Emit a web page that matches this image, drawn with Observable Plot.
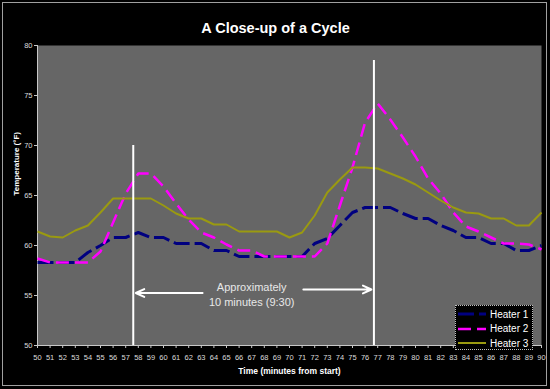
<!DOCTYPE html>
<html>
<head>
<meta charset="utf-8">
<script src="https://cdn.jsdelivr.net/npm/d3@7"></script>
<script src="https://cdn.jsdelivr.net/npm/@observablehq/plot@0.6"></script>
<style>
  html, body { margin: 0; padding: 0; background: #000; }
  #wrap { position: relative; width: 550px; height: 389px; overflow: hidden; }
  #border { position: absolute; left: 2px; top: 2px; width: 543px; height: 382px; border: 1px solid #a0a0a0; pointer-events: none; }
  #legend { position: absolute; left: 455px; top: 305px; width: 76px; height: 43px; background: #000; border: 1px dotted #c0c0c0; font-family: "Liberation Sans", Arial, sans-serif; font-size: 10px; color: #ffffff; }
  #legend .row { position: absolute; left: 1px; height: 14px; display: flex; align-items: center; }
  #legend svg { display: block; margin-right: 3px; }
</style>
</head>
<body>
<div id="wrap"><div id="border"></div></div>
<script>
// ---- data ----
const minutes = [50,51,52,53,54,55,56,57,58,59,60,61,62,63,64,65,66,67,68,69,70,71,72,73,74,75,76,77,78,79,80,81,82,83,84,85,86,87,88,89,90];
const heater1 = [58.3,58.3,58.3,58.3,59.3,60.0,60.8,60.8,61.3,60.8,60.8,60.2,60.2,60.2,59.5,59.5,58.9,58.9,58.9,58.9,58.9,58.9,60.2,60.7,62.0,63.3,63.8,63.8,63.8,63.2,62.7,62.7,62.0,61.5,60.8,60.8,60.2,60.2,59.5,59.5,60.0];
const heater2 = [58.7,58.3,58.3,58.3,58.3,59.4,62.3,65.2,67.2,67.2,65.9,64.2,62.6,61.3,60.8,60.1,59.5,59.5,58.9,58.9,58.9,58.9,58.9,60.2,64.0,67.8,72.3,74.2,72.6,70.8,68.9,66.7,65.2,63.3,61.9,61.4,60.8,60.2,60.2,60.1,59.6];
const heater3 = [61.4,60.9,60.8,61.5,62.0,63.3,64.7,64.7,64.7,64.7,64.0,63.2,62.7,62.7,62.1,62.1,61.4,61.4,61.4,61.4,60.8,61.3,63.0,65.3,66.6,67.8,67.8,67.7,67.2,66.7,66.1,65.3,64.5,63.8,63.3,63.2,62.7,62.7,62.0,62.0,63.3];
const seriesNames = ["Heater 1", "Heater 2", "Heater 3"];
const yTicks = [50, 55, 60, 65, 70, 75, 80];

// annotation values (in data units)
const markerX = [57.6, 76.7];
const markerTop = [70, 78.5];
const arrowFrom = [63.1, 71.1];
const arrowTo = [57.8, 76.5];
const arrowY = [55.25, 55.6];
const noteX = [67.0];
const noteY = [55.15];
const noteText = ["Approximately\n10 minutes (9:30)"];

const titleText = "A Close-up of a Cycle";
const xTitle = "Time (minutes from start)";
const yTitle = "Temperature (°F)";

// ---- styles ----
const styles = [
  {stroke: "#000080", strokeWidth: 3, dash: "16,5"},
  {stroke: "#ff00ff", strokeWidth: 2.5, dash: "13,6"},
  {stroke: "#9a9a10", strokeWidth: 2, dash: null}
];
const allSeries = [heater1, heater2, heater3];
const rows = [];
allSeries.forEach((vals, s) => vals.forEach((v, i) => rows.push({series: seriesNames[s], minute: minutes[i], temp: v})));
const markers = markerX.map((x, i) => ({x, top: markerTop[i]}));
const arrows = arrowFrom.map((x1, i) => ({x1, x2: arrowTo[i], y: arrowY[i]}));
const notes = noteX.map((x, i) => ({x, y: noteY[i], text: noteText[i]}));

const font = "'Liberation Sans', Arial, sans-serif";

const chart = Plot.plot({
  width: 550,
  height: 389,
  marginLeft: 37,
  marginRight: 9,
  marginTop: 45,
  marginBottom: 44,
  style: {background: "#000", color: "#d8d8d8", fontFamily: font, fontSize: "7.5px", overflow: "visible"},
  x: {domain: [50, 90], label: null},
  y: {domain: [50, 80], label: null},
  marks: [
    Plot.frame({fill: "#666666", stroke: null}),
    Plot.axisX({ticks: minutes, tickFormat: d => String(d), tickSize: 3, tickPadding: 6, stroke: "#c8c8c8", fill: "#dcdcdc", fontSize: 7.5, label: null}),
    Plot.axisY({ticks: yTicks, tickFormat: d => String(d), tickSize: 3, tickPadding: 2, stroke: "#c8c8c8", fill: "#dcdcdc", fontSize: 7.5, label: null}),
    Plot.ruleX([50], {stroke: "#c8c8c8", strokeWidth: 1}),
    Plot.ruleY([50], {stroke: "#c8c8c8", strokeWidth: 1}),
    ...seriesNames.map((name, s) => Plot.line(rows.filter(r => r.series === name), {
      x: "minute", y: "temp",
      stroke: styles[s].stroke, strokeWidth: styles[s].strokeWidth,
      strokeDasharray: styles[s].dash, strokeLinejoin: "round", strokeLinecap: "butt"
    })),
    Plot.ruleX(markers, {x: "x", y1: 50, y2: "top", stroke: "#ffffff", strokeWidth: 2}),
    Plot.arrow(arrows, {x1: "x1", x2: "x2", y1: "y", y2: "y", stroke: "#ffffff", strokeWidth: 2, headLength: 7, headAngle: 50}),
    Plot.text(notes, {x: "x", y: "y", text: "text", fill: "#e8e8e8", fontSize: 11, lineHeight: 1.3, textAnchor: "middle"}),
    Plot.text([titleText], {frameAnchor: "top", dy: -23, dx: -14, fill: "#ffffff", fontSize: 14.5, fontWeight: "bold"}),
    Plot.text([xTitle], {frameAnchor: "bottom", dy: 28, fill: "#ffffff", fontSize: 8.5, fontWeight: "bold"}),
    Plot.text([yTitle], {frameAnchor: "left", dx: -21, rotate: -90, fill: "#ffffff", fontSize: 8, fontWeight: "bold"})
  ]
});

const wrap = document.getElementById("wrap");
wrap.insertBefore(chart, wrap.firstChild);

// legend (HTML overlay)
const legend = document.createElement("div");
legend.id = "legend";
seriesNames.forEach((name, s) => {
  const row = document.createElement("div");
  row.className = "row";
  row.style.top = (1 + s * 14.5) + "px";
  const st = styles[s];
  row.innerHTML = `<svg width="30" height="8"><line x1="1" y1="4" x2="29" y2="4" stroke="${st.stroke}" stroke-width="${st.strokeWidth}" ${st.dash ? `stroke-dasharray="${st.dash}"` : ""}/></svg><span>${name}</span>`;
  legend.appendChild(row);
});
wrap.appendChild(legend);
</script>
</body>
</html>
